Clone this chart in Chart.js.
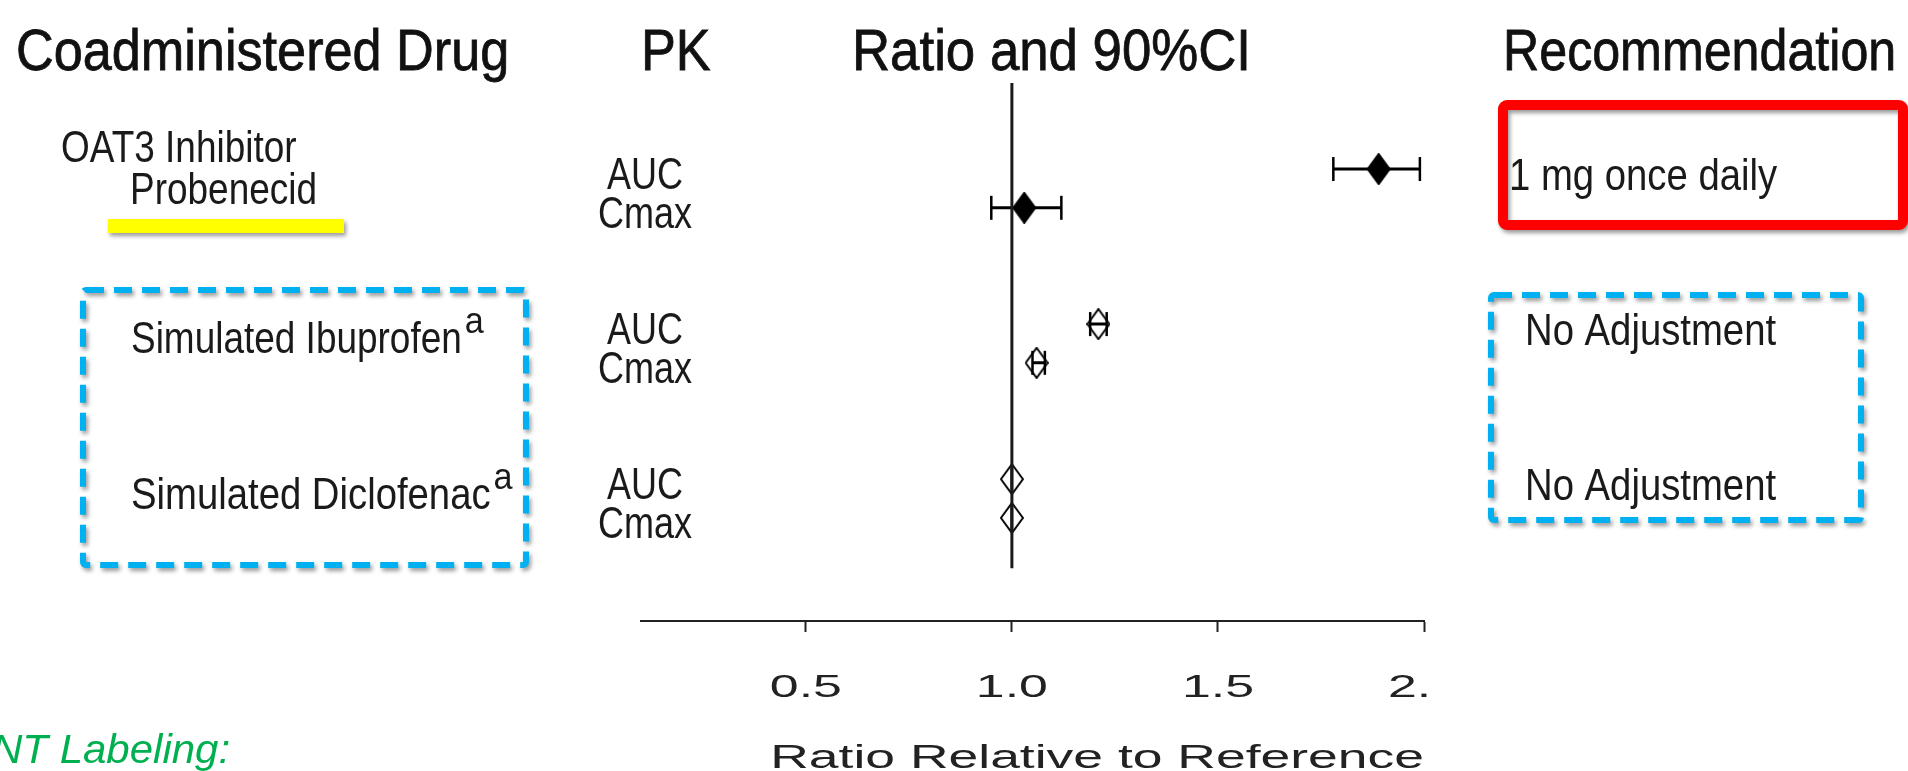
<!DOCTYPE html>
<html>
<head>
<meta charset="utf-8">
<title>Probenecid DDI forest plot</title>
<script src="https://cdn.jsdelivr.net/npm/chart.js@4.4.1/dist/chart.umd.min.js"></script>
<style>
  html, body { margin: 0; padding: 0; background: #fff; }
  #forest { display: block; }
</style>
</head>
<body>
<canvas id="forest" width="1908" height="771"></canvas>
<script>
// values
const drugLabels = [['OAT3 Inhibitor', 'Probenecid'], ['Simulated Ibuprofen'], ['Simulated Diclofenac']];
const drugFootnote = ['', 'a', 'a'];
const pkParams = ['AUC', 'Cmax'];
const aucRatio = [1.89, 1.21, 1.00];
const aucLower = [1.78, 1.19, 1.00];
const aucUpper = [1.99, 1.23, 1.00];
const cmaxRatio = [1.03, 1.06, 1.00];
const cmaxLower = [0.95, 1.05, 1.00];
const cmaxUpper = [1.12, 1.08, 1.00];
const observed = [true, false, false];
const recommendations = ['1 mg once daily', 'No Adjustment', 'No Adjustment'];
const xTicks = [0.5, 1.0, 1.5, 2.0];
const xTickLabels = ['0.5', '1.0', '1.5', '2.0'];
const headers = ['Coadministered Drug', 'PK', 'Ratio and 90%CI', 'Recommendation'];
const xTitle = 'Ratio Relative to Reference';
const footText = 'NT Labeling:';

// layout
const FONT = '"Liberation Sans", Arial, sans-serif';
const Y_MIN = -1.22, Y_MAX = 12.66, REF_END = 11.3;
const AXIS_STRETCH = 1.62;
const headerX = [16, 641, 852, 1503];
const headerSx = [0.9, 0.9, 0.91, 0.865];
const drugX = [[61, 130], [131], [131]];
const drugSx = [0.84, 0.84, 0.87];
const recX = [1509, 1525, 1525];

const rowY = (g, p) => g * 4 + 1 + p;

function diamond(filled) {
  const c = document.createElement('canvas');
  c.width = 24; c.height = 32;
  const x = c.getContext('2d');
  x.beginPath();
  x.moveTo(12, 1); x.lineTo(23, 16); x.lineTo(12, 31); x.lineTo(1, 16); x.closePath();
  if (filled) { x.fillStyle = '#000'; x.fill(); }
  x.lineWidth = 2; x.strokeStyle = '#000'; x.stroke();
  return c;
}
const solidMark = diamond(true), hollowMark = diamond(false);

const points = [], ciSegs = [];
drugLabels.forEach((d, g) => {
  [[aucRatio, aucLower, aucUpper], [cmaxRatio, cmaxLower, cmaxUpper]].forEach(([r, lo, hi], p) => {
    const y = rowY(g, p);
    points.push({x: r[g], y: y, filled: observed[g]});
    ciSegs.push({x: lo[g], y: y}, {x: hi[g], y: y}, {x: hi[g], y: null});
  });
});

function txt(ctx, s, x, y, size, sx, opt = {}) {
  ctx.save();
  ctx.font = (opt.italic ? 'italic ' : '') + size + 'px ' + FONT;
  ctx.fillStyle = opt.color || '#111';
  ctx.textAlign = opt.align || 'left';
  ctx.textBaseline = 'alphabetic';
  ctx.translate(x, y);
  ctx.scale(sx, 1);
  ctx.fillText(s, 0, 0);
  if (opt.heavy) {
    ctx.lineWidth = opt.heavy;
    ctx.strokeStyle = ctx.fillStyle;
    ctx.strokeText(s, 0, 0);
  }
  const w = ctx.measureText(s).width * sx;
  ctx.restore();
  return w;
}

function shadowOn(ctx) {
  ctx.shadowColor = 'rgba(0,0,0,0.4)';
  ctx.shadowBlur = 4;
  ctx.shadowOffsetX = 2;
  ctx.shadowOffsetY = 3;
}

// the axis text in the source is stretched wide and the picture is cropped just right of 2.0
const axisLook = {
  id: 'axisLook',
  beforeDraw(chart) {
    const ctx = chart.ctx;
    ctx.save();
    ctx.beginPath();
    ctx.rect(0, 0, chart.scales.x.right + 6, chart.height);
    ctx.clip();
    const fill = CanvasRenderingContext2D.prototype.fillText;
    ctx.fillText = function (t, x, y) {
      this.save();
      this.translate(x, y);
      this.scale(AXIS_STRETCH, 1);
      fill.call(this, t, 0, 0);
      this.restore();
    };
  },
  beforeDatasetsDraw(chart) {
    delete chart.ctx.fillText;
    chart.ctx.restore();
  }
};

const annotations = {
  id: 'annotations',
  afterDraw(chart) {
    const ctx = chart.ctx;
    const ys = chart.scales.y;

    headers.forEach((h, i) => txt(ctx, h, headerX[i], 70, 58, headerSx[i], {heavy: 0.8}));

    drugLabels.forEach((lines, g) => {
      const mid = ys.getPixelForValue(rowY(g, 0) + 0.5);
      const offs = lines.length === 2 ? [-26, 16] : [10];
      let w = 0;
      lines.forEach((l, k) => { w = txt(ctx, l, drugX[g][k], mid + offs[k], 44, drugSx[g], {color: '#1a1a1a'}); });
      if (drugFootnote[g]) {
        const k = lines.length - 1;
        txt(ctx, drugFootnote[g], drugX[g][k] + w + 3, mid + offs[k] - 20, 36, 0.95, {color: '#1a1a1a'});
      }
      pkParams.forEach((p, j) => {
        txt(ctx, p, 645, ys.getPixelForValue(rowY(g, j)) + 20, 45, 0.8, {align: 'center', color: '#1a1a1a'});
      });
      txt(ctx, recommendations[g], recX[g], ys.getPixelForValue(rowY(g, 0)) + 21, 44, 0.87, {color: '#1a1a1a'});
    });

    // highlight marks
    ctx.save();
    shadowOn(ctx);
    ctx.fillStyle = '#FFFF00';
    ctx.fillRect(108, 219, 236, 14);
    ctx.lineWidth = 10;
    ctx.strokeStyle = '#FF0000';
    ctx.beginPath();
    ctx.roundRect(1503, 105, 400, 120, 4);
    ctx.stroke();
    ctx.lineWidth = 6;
    ctx.strokeStyle = '#00B0F0';
    ctx.setLineDash([18, 10]);
    ctx.beginPath();
    ctx.roundRect(83, 290, 443, 275, 3);
    ctx.stroke();
    ctx.beginPath();
    ctx.roundRect(1491, 295, 370, 225, 3);
    ctx.stroke();
    ctx.restore();

    txt(ctx, footText, -8, 763, 40, 1.05, {italic: true, color: '#00B050'});
  }
};

new Chart('forest', {
  type: 'scatter',
  data: {
    datasets: [
      {
        type: 'line',
        data: [{x: 1, y: Y_MIN}, {x: 1, y: REF_END}],
        borderColor: '#1a1a1a',
        borderWidth: 3,
        pointRadius: 0
      },
      {
        type: 'line',
        data: ciSegs,
        borderColor: '#000',
        borderWidth: 3,
        spanGaps: false,
        pointStyle: 'line',
        pointRotation: 90,
        pointRadius: 12,
        pointBorderWidth: 2.5,
        pointBorderColor: '#000'
      },
      {
        data: points,
        pointStyle: c => (c.raw && c.raw.filled ? solidMark : hollowMark),
        pointRadius: 12
      }
    ]
  },
  options: {
    responsive: false,
    animation: false,
    layout: {padding: {left: 641, right: 484, top: 83, bottom: 0}},
    plugins: {legend: {display: false}, tooltip: {enabled: false}},
    scales: {
      x: {
        type: 'linear',
        min: 0.1,
        max: 2.0,
        afterBuildTicks: s => { s.ticks = xTicks.map(v => ({value: v})); },
        afterFit: s => { s.height = 150; },
        grid: {drawOnChartArea: false, drawTicks: true, tickLength: 11, tickWidth: 2, tickColor: '#222'},
        border: {display: true, color: '#222', width: 2},
        ticks: {
          padding: 37,
          color: '#222',
          font: {family: FONT, size: 32},
          callback: v => xTickLabels[xTicks.indexOf(v)]
        },
        title: {
          display: true,
          text: xTitle,
          align: 'end',
          color: '#222',
          padding: {top: 0, bottom: 0},
          font: {family: FONT, size: 33, lineHeight: 0.72}
        }
      },
      y: {type: 'linear', min: Y_MIN, max: Y_MAX, reverse: true, display: false}
    }
  },
  plugins: [axisLook, annotations]
});
</script>
</body>
</html>
